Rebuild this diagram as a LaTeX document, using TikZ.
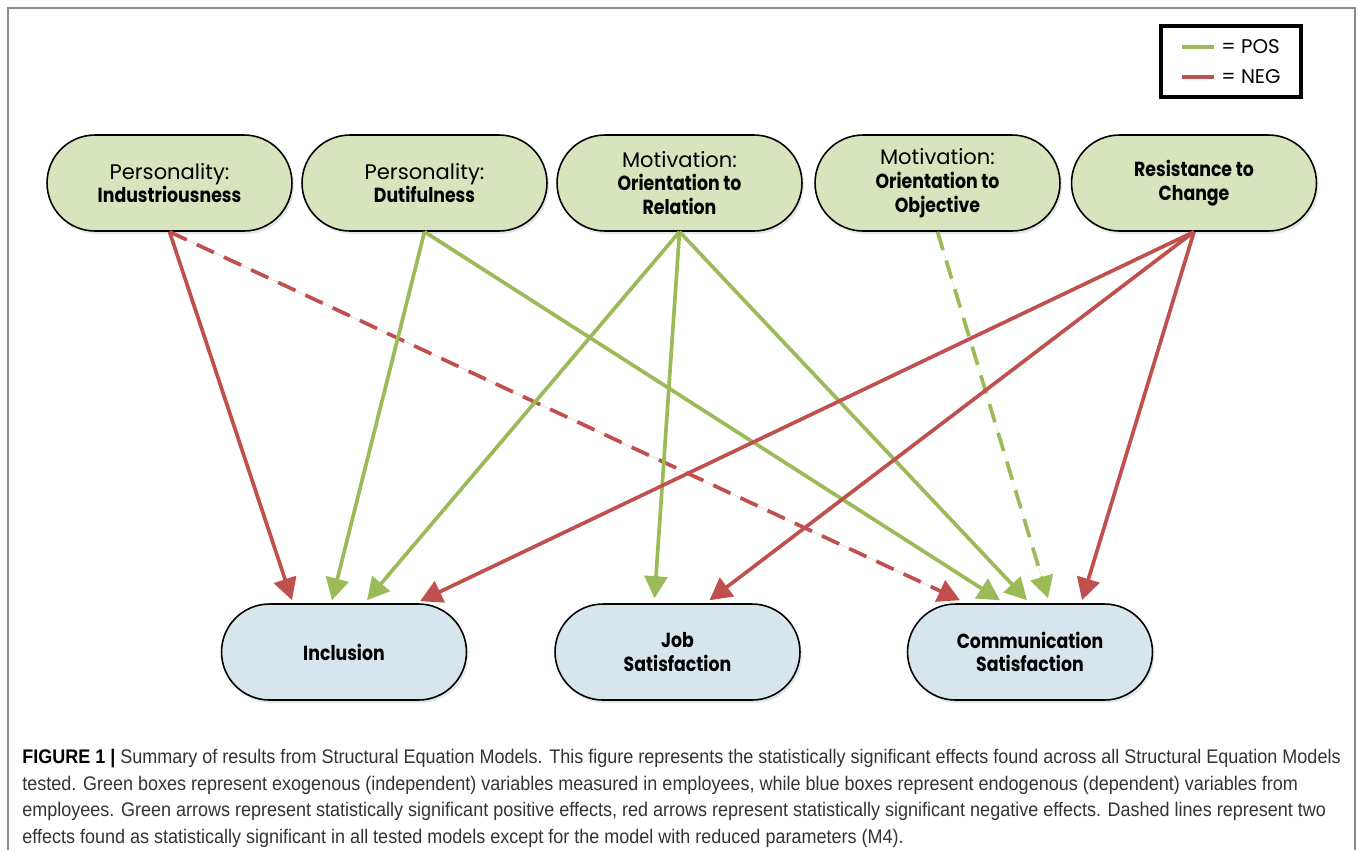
\documentclass[tikz,border=0pt]{standalone}
\usepackage{fontspec}
\setmainfont{Liberation Sans}
\newfontfamily\nodefont{Poppins}
\newfontfamily\capfont[FakeStretch=0.915]{Liberation Sans}
\usetikzlibrary{arrows.meta,calc,shadows}
\definecolor{posgreen}{HTML}{9BBB59}
\definecolor{negred}{HTML}{C0504D}
\definecolor{exofill}{HTML}{D7E4BD}
\definecolor{endofill}{HTML}{D6E6EC}
\definecolor{framegray}{HTML}{8C8C8C}
\definecolor{captext}{HTML}{333333}
\newcommand\bt[1]{{\fontsize{11.6}{13.5}\selectfont\bfseries\addfontfeature{FakeStretch=0.85}#1}}
\begin{document}
\begin{tikzpicture}[x=0.02cm,y=-0.02cm,
  var/.style={draw=black, line width=0.9pt, rounded corners=0.96cm,
    minimum width=4.9cm, minimum height=1.92cm, align=center, inner sep=0pt,
    font=\nodefont\fontsize{12}{13.5}\selectfont,
    drop shadow={shadow xshift=0.04cm, shadow yshift=-0.06cm, opacity=0.2}},
  exo/.style={var, fill=exofill},
  endo/.style={var, fill=endofill},
  eff/.style={line width=2.1pt, -{Triangle[length=0.44cm,width=0.46cm]}},
  posarrow/.style={eff, draw=posgreen, fill=posgreen},
  negarrow/.style={eff, draw=negred, fill=negred},
  dasharrow/.style={dash pattern=on 0.38cm off 0.22cm},
  legtext/.style={anchor=west, inner sep=0pt, font=\nodefont\fontsize{11.3}{13}\selectfont}
]
\useasboundingbox (0,0) rectangle (1358,850);
\draw[framegray, line width=1.4pt] (8,850) -- (8,8) -- (1355,8) -- (1355,850);

% legend
\node[draw=black, line width=2.2pt, minimum width=2.8cm, minimum height=1.42cm, inner sep=0pt] (legend) at (1231,61.5) {};
\coordinate (lg1) at (1182,47);
\coordinate (lg2) at (1214,47);
\coordinate (lr1) at (1182,77);
\coordinate (lr2) at (1214,77);
\draw[posgreen, line width=2.4pt] (lg1) -- (lg2);
\draw[negred, line width=2.4pt] (lr1) -- (lr2);
\node[legtext] (lpos) at (1221,47) {= POS};
\node[legtext] (lneg) at (1221,77) {= NEG};

% exogenous
\node[exo] (ind) at (169.5,183) {Personality:\\\bt{Industriousness}};
\node[exo] (dut) at (424.5,183) {Personality:\\\bt{Dutifulness}};
\node[exo] (rel) at (679.5,183) {Motivation:\\\bt{Orientation to}\\\bt{Relation}};
\node[exo] (obj) at (937.5,183) {Motivation:\\\bt{Orientation to}\\\bt{Objective}};
\node[exo] (res) at (1194,183) {\bt{Resistance to}\\\bt{Change}};

% endogenous
\node[endo] (inc) at (344,652) {\bt{Inclusion}};
\node[endo] (job) at (677.5,652) {\bt{Job}\\\bt{Satisfaction}};
\node[endo] (com) at (1030,652) {\bt{Communication}\\\bt{Satisfaction}};

% effects
\draw[negarrow] (ind.south) -- ($(inc.north)+(-52,-3)$);
\draw[negarrow, dasharrow] (ind.south) -- ($(com.north)+(-70,-3)$);
\draw[posarrow] (dut.south) -- ($(inc.north)+(-12,-3)$);
\draw[posarrow] (dut.south) -- ($(com.north)+(-30,-3)$);
\draw[posarrow] (rel.south) -- ($(inc.north)+(23,-3)$);
\draw[posarrow] (rel.south) -- ($(job.north)+(-23,-5)$);
\draw[posarrow] (rel.south) -- ($(com.north)+(-3,-3)$);
\draw[posarrow, dasharrow] (obj.south) -- ($(com.north)+(18,-5)$);
\draw[negarrow] (res.south) -- ($(inc.north)+(76,-2)$);
\draw[negarrow] (res.south) -- ($(job.north)+(32,-3)$);
\draw[negarrow] (res.south) -- ($(com.north)+(52,-3)$);

% caption
\node[anchor=north west, inner sep=0pt, align=left, text=captext,
  font=\capfont\fontsize{11.2}{15.1}\selectfont] (cap) at (22,749)
 {\textcolor{black}{\textbf{FIGURE 1 |}} Summary of results from Structural Equation Models. This figure represents the statistically significant effects found across all Structural Equation Models\\
 tested. Green boxes represent exogenous (independent) variables measured in employees, while blue boxes represent endogenous (dependent) variables from\\
 employees. Green arrows represent statistically significant positive effects, red arrows represent statistically significant negative effects. Dashed lines represent two\\
 effects found as statistically significant in all tested models except for the model with reduced parameters (M4).};
\end{tikzpicture}
\end{document}
